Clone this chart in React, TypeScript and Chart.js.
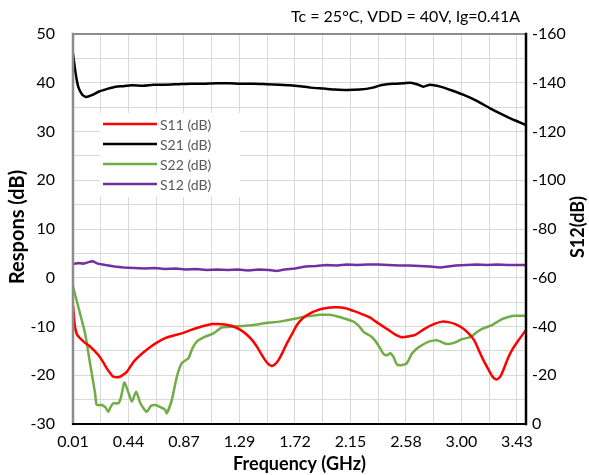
import React, { useEffect, useRef } from 'react';
import { Chart, registerables } from 'chart.js';

Chart.register(...registerables);

// Frequency axis labels (GHz); grid lines also fall halfway between them
const xTickLabels = ['0.01', '0.44', '0.87', '1.29', '1.72', '2.15', '2.58', '3.00', '3.43'];
const xMin = 0.01;
const xLabelMax = 3.43;
const xMax = 3.5;

// S21 (dB), left axis
const s21Freq = [0.01, 0.03, 0.05, 0.08, 0.11, 0.15, 0.21, 0.28, 0.34, 0.40, 0.46, 0.55, 0.63, 0.72, 0.82, 0.92, 1.01, 1.11, 1.21, 1.30, 1.40, 1.50, 1.60, 1.68, 1.76, 1.84, 1.94, 2.03, 2.12, 2.22, 2.32, 2.38, 2.43, 2.50, 2.56, 2.61, 2.66, 2.71, 2.76, 2.84, 2.93, 3.02, 3.12, 3.22, 3.30, 3.37, 3.44, 3.50];
const s21Db = [46.0, 42.0, 39.2, 37.6, 37.1, 37.4, 38.2, 38.8, 39.2, 39.3, 39.5, 39.4, 39.6, 39.6, 39.7, 39.8, 39.8, 39.9, 39.9, 39.8, 39.8, 39.7, 39.6, 39.5, 39.3, 39.0, 38.8, 38.6, 38.5, 38.6, 39.0, 39.5, 39.7, 39.8, 39.9, 40.0, 39.7, 39.2, 39.6, 39.2, 38.4, 37.5, 36.3, 34.8, 33.7, 32.8, 32.0, 31.3];

// S11 (dB), left axis
const s11Freq = [0.01, 0.025, 0.04, 0.064, 0.10, 0.141, 0.205, 0.24, 0.27, 0.30, 0.32, 0.36, 0.39, 0.424, 0.455, 0.488, 0.54, 0.59, 0.65, 0.72, 0.78, 0.848, 0.91, 0.976, 1.03, 1.08, 1.12, 1.157, 1.20, 1.246, 1.30, 1.35, 1.39, 1.426, 1.46, 1.49, 1.515, 1.542, 1.565, 1.593, 1.625, 1.658, 1.70, 1.735, 1.78, 1.837, 1.89, 1.94, 1.99, 2.043, 2.10, 2.171, 2.24, 2.30, 2.338, 2.377, 2.41, 2.44, 2.49, 2.544, 2.60, 2.647, 2.70, 2.75, 2.80, 2.853, 2.90, 2.955, 3.01, 3.058, 3.10, 3.135, 3.17, 3.212, 3.24, 3.264, 3.28, 3.302, 3.33, 3.366, 3.40, 3.443, 3.50];
const s11Db = [-5.6, -10.0, -11.6, -12.4, -13.3, -14.1, -15.85, -17.2, -18.6, -19.7, -20.3, -20.4, -20.0, -19.3, -18.1, -16.9, -15.6, -14.5, -13.4, -12.4, -11.9, -11.4, -10.8, -10.2, -9.8, -9.5, -9.5, -9.55, -9.7, -10.0, -10.7, -11.7, -12.8, -14.1, -15.6, -16.9, -17.7, -18.1, -17.8, -16.9, -15.3, -13.45, -11.4, -9.7, -8.3, -7.3, -6.7, -6.3, -6.1, -6.06, -6.2, -6.8, -7.5, -8.2, -8.9, -9.6, -10.2, -10.7, -11.6, -12.2, -12.0, -11.7, -10.8, -10.0, -9.4, -9.0, -9.1, -9.5, -10.3, -11.4, -12.8, -14.8, -16.8, -18.9, -20.2, -20.8, -20.8, -20.3, -18.6, -16.2, -14.5, -12.8, -10.7];

// S22 (dB), left axis
const s22Freq = [0.01, 0.05, 0.103, 0.141, 0.18, 0.193, 0.231, 0.26, 0.282, 0.30, 0.32, 0.36, 0.38, 0.405, 0.43, 0.463, 0.496, 0.53, 0.578, 0.61, 0.642, 0.68, 0.72, 0.732, 0.771, 0.81, 0.848, 0.899, 0.93, 0.964, 1.028, 1.092, 1.157, 1.20, 1.246, 1.32, 1.40, 1.47, 1.529, 1.60, 1.658, 1.72, 1.786, 1.85, 1.914, 1.99, 2.04, 2.094, 2.171, 2.21, 2.248, 2.30, 2.338, 2.377, 2.402, 2.43, 2.454, 2.48, 2.506, 2.545, 2.583, 2.62, 2.66, 2.70, 2.75, 2.814, 2.85, 2.891, 2.95, 3.007, 3.07, 3.12, 3.161, 3.238, 3.315, 3.37, 3.418, 3.50];
const s22Db = [-1.8, -5.9, -11.4, -17.5, -23.7, -26.1, -26.1, -26.6, -27.5, -26.5, -25.75, -25.75, -24.5, -21.5, -23.0, -25.4, -23.4, -25.8, -27.5, -26.3, -26.1, -26.5, -27.1, -27.8, -25.1, -20.3, -17.5, -16.5, -14.5, -13.1, -12.1, -11.4, -10.2, -10.1, -10.0, -9.9, -9.7, -9.4, -9.2, -9.0, -8.7, -8.4, -8.0, -7.8, -7.6, -7.6, -7.9, -8.3, -9.0, -9.8, -11.1, -11.9, -12.9, -14.5, -15.6, -15.9, -15.5, -16.3, -17.8, -17.9, -17.5, -15.6, -14.5, -13.8, -13.1, -12.8, -13.2, -13.6, -13.3, -12.6, -12.2, -11.2, -10.5, -9.7, -8.5, -8.0, -7.8, -7.8];

// S12 (dB), right axis
const s12Freq = [0.01, 0.05, 0.09, 0.13, 0.16, 0.20, 0.26, 0.33, 0.40, 0.48, 0.56, 0.64, 0.72, 0.80, 0.88, 0.96, 1.04, 1.12, 1.20, 1.28, 1.36, 1.44, 1.52, 1.58, 1.64, 1.72, 1.80, 1.88, 1.96, 2.04, 2.12, 2.20, 2.28, 2.36, 2.44, 2.52, 2.60, 2.68, 2.76, 2.84, 2.90, 2.96, 3.04, 3.12, 3.20, 3.28, 3.36, 3.44, 3.50];
const s12Db = [-65.6, -66.0, -65.8, -66.4, -66.8, -65.8, -65.2, -64.6, -64.2, -64.0, -63.8, -64.0, -63.6, -63.8, -63.4, -63.6, -63.2, -63.4, -63.2, -63.4, -63.0, -63.4, -63.2, -62.8, -63.4, -63.8, -64.6, -64.8, -65.2, -65.0, -65.4, -65.2, -65.4, -65.4, -65.2, -65.0, -65.0, -64.8, -64.6, -64.2, -64.6, -65.0, -65.2, -65.4, -65.2, -65.4, -65.2, -65.2, -65.2];

const seriesNames = ['S11 (dB)', 'S21 (dB)', 'S22 (dB)', 'S12 (dB)'];
const seriesColors = ['#ff0000', '#000000', '#70ad47', '#7030a0'];

const headerText = 'Tc = 25\u00b0C, VDD = 40V, Ig=0.41A';
const leftTitle = 'Respons (dB)';
const rightTitle = 'S12(dB)';
const xTitle = 'Frequency (GHz)';

const FONT = "Lato, 'Open Sans', sans-serif";

const toPoints = (xs: number[], ys: number[]) => xs.map((x, i) => ({ x, y: ys[i] }));

const decorPlugin = {
  id: 'decor',
  afterDatasetsDraw(chart: any) {
    const { ctx } = chart;
    ctx.save();
    // in-plot legend on a white panel
    ctx.fillStyle = '#ffffff';
    ctx.fillRect(100, 113, 140, 84);
    const rows = [124, 144, 164, 184];
    seriesNames.forEach((name, i) => {
      ctx.strokeStyle = seriesColors[i];
      ctx.lineWidth = 2.5;
      ctx.beginPath();
      ctx.moveTo(103, rows[i]);
      ctx.lineTo(157, rows[i]);
      ctx.stroke();
      ctx.fillStyle = '#595959';
      ctx.font = `14px ${FONT}`;
      ctx.textAlign = 'left';
      ctx.textBaseline = 'middle';
      ctx.fillText(name, 160, rows[i] + 1);
    });
    ctx.restore();
  },
  afterDraw(chart: any) {
    const { ctx, chartArea: ca } = chart;
    ctx.save();
    // plot frame
    ctx.lineCap = 'square';
    ctx.strokeStyle = '#8c8c8c';
    ctx.lineWidth = 2;
    ctx.beginPath();
    ctx.moveTo(ca.left, ca.top);
    ctx.lineTo(ca.right, ca.top);
    ctx.stroke();
    ctx.lineWidth = 2.5;
    ctx.beginPath();
    ctx.moveTo(ca.left, ca.top);
    ctx.lineTo(ca.left, ca.bottom);
    ctx.stroke();
    ctx.strokeStyle = '#000000';
    ctx.lineWidth = 2;
    ctx.beginPath();
    ctx.moveTo(ca.left, ca.bottom);
    ctx.lineTo(ca.right, ca.bottom);
    ctx.stroke();
    ctx.lineWidth = 2.5;
    ctx.beginPath();
    ctx.moveTo(ca.right, ca.top);
    ctx.lineTo(ca.right, ca.bottom);
    ctx.stroke();

    // header
    ctx.fillStyle = '#000000';
    ctx.font = `16px ${FONT}`;
    ctx.textAlign = 'right';
    ctx.textBaseline = 'middle';
    ctx.fillText(headerText, 520, 17);

    // axis titles
    ctx.textAlign = 'center';
    const midY = (ca.top + ca.bottom) / 2;
    ctx.font = `bold 18px ${FONT}`;
    ctx.fillText(xTitle, (ca.left + ca.right) / 2, 464);

    ctx.save();
    ctx.font = `bold 20px ${FONT}`;
    ctx.translate(18, midY - 2);
    ctx.rotate(-Math.PI / 2);
    ctx.fillText(leftTitle, 0, 0);
    ctx.restore();

    ctx.save();
    ctx.font = `bold 18px ${FONT}`;
    ctx.translate(578, midY - 2);
    ctx.rotate(-Math.PI / 2);
    ctx.fillText(rightTitle, 0, 0);
    ctx.restore();

    ctx.restore();
  },
};

export default function App() {
  const canvasRef = useRef<HTMLCanvasElement | null>(null);

  useEffect(() => {
    document.body.style.margin = '0';
    const canvas = canvasRef.current;
    if (!canvas) return;

    const majorStep = (xLabelMax - xMin) / (xTickLabels.length - 1);
    const gridValues: number[] = [];
    for (let k = 0; k <= (xTickLabels.length - 1) * 2; k++) gridValues.push(xMin + (k * majorStep) / 2);

    const lineDataset = (label: string, color: string, pts: any[], axis: string, tension: number) => ({
      label,
      data: pts,
      borderColor: color,
      backgroundColor: color,
      borderWidth: 2.5,
      pointRadius: 0,
      fill: false,
      tension,
      yAxisID: axis,
    });

    const chart = new Chart(canvas, {
      type: 'line',
      data: {
        datasets: [
          lineDataset(seriesNames[0], seriesColors[0], toPoints(s11Freq, s11Db), 'y', 0.3),
          lineDataset(seriesNames[1], seriesColors[1], toPoints(s21Freq, s21Db), 'y', 0.2),
          lineDataset(seriesNames[2], seriesColors[2], toPoints(s22Freq, s22Db), 'y', 0.2),
          lineDataset(seriesNames[3], seriesColors[3], toPoints(s12Freq, s12Db), 'y2', 0),
        ],
      },
      options: {
        responsive: false,
        animation: false,
        layout: { padding: { top: 34, left: 0, right: 0, bottom: 0 } },
        plugins: {
          legend: { display: false },
          tooltip: { enabled: false },
          title: { display: false },
        },
        scales: {
          x: {
            type: 'linear',
            min: xMin,
            max: xMax,
            afterBuildTicks: (scale: any) => {
              scale.ticks = gridValues.map((value) => ({ value }));
            },
            afterFit: (scale: any) => {
              scale.height = 51;
            },
            grid: { color: '#d9d9d9', lineWidth: 1, drawTicks: false },
            border: { display: false },
            ticks: {
              autoSkip: false,
              maxRotation: 0,
              padding: 8,
              color: '#000000',
              font: { family: FONT, size: 16 },
              callback: (_v: any, index: number) => (index % 2 === 0 ? xTickLabels[index / 2] : ''),
            },
          },
          y: {
            type: 'linear',
            position: 'left',
            min: -30,
            max: 50,
            afterFit: (scale: any) => {
              scale.width = 73;
            },
            grid: { color: '#d9d9d9', lineWidth: 1, drawTicks: false },
            border: { display: false },
            ticks: {
              stepSize: 5,
              padding: 18,
              color: '#000000',
              font: { family: FONT, size: 16 },
              callback: (v: any) => (Number(v) % 10 === 0 ? String(v) : ''),
            },
          },
          y2: {
            type: 'linear',
            position: 'right',
            min: -160,
            max: 0,
            reverse: true,
            afterFit: (scale: any) => {
              scale.width = 63;
            },
            grid: { display: false, drawTicks: false },
            border: { display: false },
            ticks: {
              stepSize: 20,
              padding: 6,
              color: '#000000',
              font: { family: FONT, size: 16 },
            },
          },
        },
      },
      plugins: [decorPlugin],
    } as any);

    return () => chart.destroy();
  }, []);

  return (
    <div style={{ width: 589, height: 475 }}>
      <canvas ref={canvasRef} width={589} height={475} />
    </div>
  );
}
